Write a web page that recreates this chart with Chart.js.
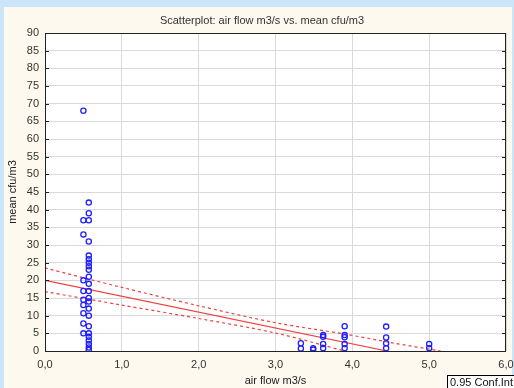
<!DOCTYPE html>
<html lang="en">
<head>
  <meta charset="UTF-8">
  <title>Scatterplot: air flow vs. mean cfu</title>
  <script src="https://cdn.jsdelivr.net/npm/chart.js"></script>
  <style>
    body { margin: 0; background: #cbe6fb; overflow: hidden; }
    #wrap { width: 514px; height: 388px; position: relative; }
  </style>
</head>
<body>
  <div id="wrap"><canvas id="chart" width="514" height="388"></canvas></div>

  <script>
    // measured points (air flow m3/s, mean cfu/m3)
    const flowX = [
      0.5, 0.5, 0.5, 0.5, 0.5, 0.5, 0.5, 0.5, 0.5, 0.5,
      0.57, 0.57, 0.57, 0.57, 0.57, 0.57, 0.57, 0.57, 0.57, 0.57, 0.57, 0.57,
      0.57, 0.57, 0.57, 0.57, 0.57, 0.57, 0.57, 0.57, 0.57, 0.57, 0.57,
      3.33, 3.33, 3.49, 3.49,
      3.62, 3.62, 3.62, 3.62,
      3.9, 3.9, 3.9, 3.9, 3.9,
      4.44, 4.44, 4.44, 4.44,
      5.0, 5.0
    ];
    const cfuY = [
      68, 37, 33, 20, 17, 14.5, 13, 10.7, 7.8, 5,
      42, 39, 37, 31, 27, 26, 25, 24, 23, 21, 19, 17,
      15, 14, 12, 10, 7, 5, 4, 3, 2, 1, 0.3,
      2.2, 0.7, 0.8, 0.4,
      4.5, 4.0, 2.0, 0.8,
      7.0, 4.5, 3.9, 2.0, 0.8,
      6.9, 3.8, 2.2, 0.8,
      2.0, 0.8
    ];

    // fitted line and 0.95 confidence band
    const fitX = [0, 4.45];
    const fitY = [20, 0];
    const upperX = [0, 1, 2, 3, 3.9, 4.5, 5.15];
    const upperY = [23.5, 18, 12.8, 8, 4.8, 2.4, 0];
    const lowerX = [0, 1, 2, 3, 3.9];
    const lowerY = [16.8, 13, 9.2, 5.1, 0];

    const xTicks = [0, 1, 2, 3, 4, 5, 6];

    const pts = (xs, ys) => xs.map((x, i) => ({ x: x, y: ys[i] }));

    const frame = {
      id: "frame",
      beforeDraw(chart) {
        const c = chart.ctx, a = chart.chartArea;
        c.save();
        c.fillStyle = "#cbe6fb";
        c.fillRect(0, 0, chart.width, chart.height);
        c.fillStyle = "#fdf9ee";
        c.fillRect(4, 7, 508, chart.height - 7);
        c.fillStyle = "#ffffff";
        c.fillRect(a.left, a.top, a.right - a.left, a.bottom - a.top);
        c.fillStyle = "#333";
        c.font = "11px 'Liberation Sans', Arial, sans-serif";
        c.textAlign = "center";
        c.textBaseline = "middle";
        c.fillText("Scatterplot: air flow m3/s vs. mean cfu/m3", 262, 21);
        c.restore();
      },
      afterDraw(chart) {
        const c = chart.ctx, a = chart.chartArea;
        const ys = chart.scales.y;
        c.save();
        c.strokeStyle = "#222";
        c.lineWidth = 1;
        c.strokeRect(a.left + 0.5, a.top + 0.5, a.right - a.left - 1, a.bottom - a.top);
        // small inward ticks on left and right axes
        for (let v = 0; v <= 90; v += 5) {
          const py = Math.round(ys.getPixelForValue(v)) + 0.5;
          c.beginPath();
          c.moveTo(a.left, py); c.lineTo(a.left + 4, py);
          c.moveTo(a.right, py); c.lineTo(a.right - 4, py);
          c.stroke();
        }
        // legend box, partly outside the window
        c.fillStyle = "#fff";
        c.fillRect(447, 375, 80, 20);
        c.strokeStyle = "#000";
        c.strokeRect(447.5, 375.5, 80, 20);
        c.fillStyle = "#111";
        c.font = "11px 'Liberation Sans', Arial, sans-serif";
        c.textAlign = "left";
        c.textBaseline = "middle";
        c.fillText("0.95 Conf.Int.", 450, 383);
        c.restore();
      }
    };

    const font = { family: "'Liberation Sans', Arial, sans-serif", size: 11 };

    new Chart(document.getElementById("chart"), {
      type: "scatter",
      data: {
        datasets: [
          {
            data: pts(flowX, cfuY),
            pointStyle: "circle",
            pointRadius: 2.6,
            pointBorderWidth: 1.3,
            pointBorderColor: "#1f1fff",
            pointBackgroundColor: "rgba(255,255,255,0)",
            showLine: false
          },
          {
            data: pts(fitX, fitY),
            showLine: true,
            pointRadius: 0,
            borderColor: "#f04040",
            borderWidth: 1.2
          },
          {
            data: pts(upperX, upperY),
            showLine: true,
            pointRadius: 0,
            borderColor: "#f04040",
            borderWidth: 1.2,
            borderDash: [3, 3],
            tension: 0.3
          },
          {
            data: pts(lowerX, lowerY),
            showLine: true,
            pointRadius: 0,
            borderColor: "#f04040",
            borderWidth: 1.2,
            borderDash: [3, 3],
            tension: 0.3
          }
        ]
      },
      options: {
        responsive: false,
        animation: false,
        devicePixelRatio: 1,
        layout: { padding: { left: 0, top: 33, right: 8, bottom: 0 } },
        plugins: {
          legend: { display: false },
          tooltip: { enabled: false }
        },
        scales: {
          x: {
            type: "linear",
            min: 0,
            max: 6,
            afterBuildTicks: s => { s.ticks = xTicks.map(v => ({ value: v })); },
            afterFit: s => { s.height = 37; s.paddingLeft = 0; s.paddingRight = 0; },
            grid: { color: "#d9d9d9", drawTicks: false },
            border: { display: false },
            ticks: {
              padding: 7,
              color: "#333",
              font: font,
              callback: v => v.toFixed(1).replace(".", ",")
            },
            title: {
              display: true,
              text: "air flow m3/s",
              color: "#222",
              font: font,
              padding: { top: 0, bottom: 0 }
            }
          },
          y: {
            min: 0,
            max: 90,
            afterFit: s => { s.width = 45; },
            grid: { color: "#d9d9d9", drawTicks: false },
            border: { display: false },
            ticks: {
              stepSize: 5,
              autoSkip: false,
              padding: 6,
              color: "#333",
              font: font
            },
            title: {
              display: true,
              text: "mean cfu/m3",
              color: "#222",
              font: font,
              padding: { top: 6, bottom: 0 }
            }
          }
        }
      },
      plugins: [frame]
    });
  </script>
</body>
</html>
